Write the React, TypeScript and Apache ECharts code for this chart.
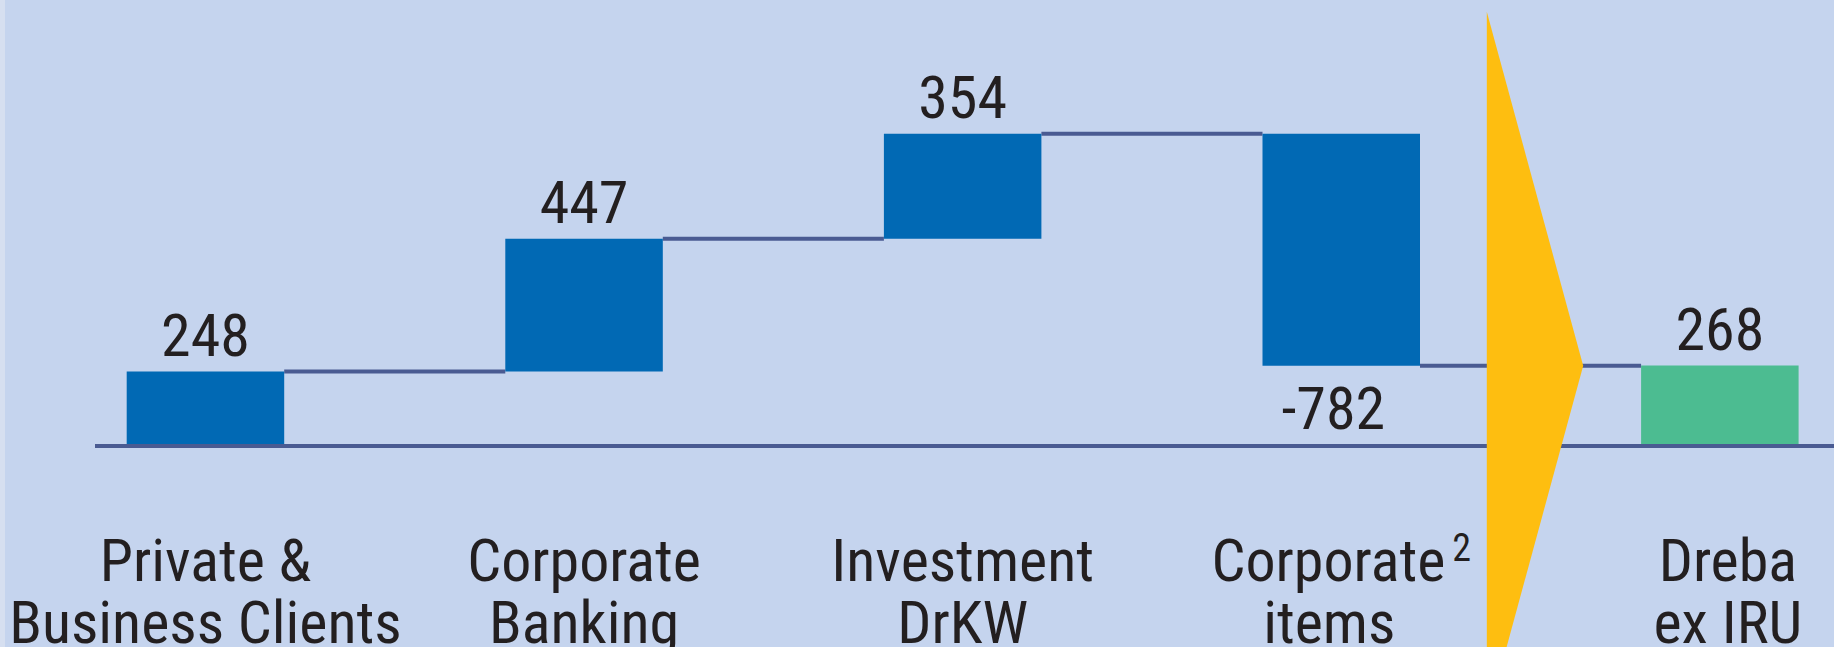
import React, { useEffect, useRef } from 'react';
import * as echarts from 'echarts';

// ---- data ----
const categories = ['Private &\nBusiness Clients', 'Corporate\nBanking', 'Investment\nDrKW', 'Corporate²\nitems', 'Dreba\nex IRU'];
const steps = [248, 447, 354, -782];
const totalValue = 268;
const valueLabels = ['248', '447', '354', '-782', '268'];
const yRange = [0, 1500];

// ---- style ----
const BG = '#c5d4ee';
const BLUE = '#0169b4';
const GREEN = '#4cbc91';
const YELLOW = '#febe10';
const LINE = '#4a5b92';
const TEXT = '#231f20';
const FONT = "'Roboto Condensed', 'DejaVu Sans Condensed', sans-serif";
const BAR_W = 157.5;

export default function App() {
  const ref = useRef<HTMLDivElement>(null);

  useEffect(() => {
    const chart = echarts.init(ref.current!, null, { renderer: 'svg' });

    const helper: number[] = [];
    const visible: any[] = [];
    const connectors: [number, number][] = [];
    let cum = 0;
    steps.forEach((s, i) => {
      const next = cum + s;
      helper.push(Math.min(cum, next));
      visible.push({
        value: Math.abs(s),
        itemStyle: { color: BLUE },
        label: {
          formatter: valueLabels[i],
          position: s < 0 ? 'bottom' : 'top',
          distance: s < 0 ? 13 : 6,
          offset: s < 0 ? [-8, 0] : [0, 0],
        },
      });
      connectors.push([i, next]);
      cum = next;
    });
    helper.push(0);
    visible.push({
      value: totalValue,
      itemStyle: { color: GREEN },
      label: { formatter: valueLabels[4], position: 'top', distance: 6 },
    });

    const axisData = categories.map((c, i) =>
      i === categories.length - 1 ? { value: c, textStyle: { padding: [0, 0, 0, 16] } } : c
    );

    chart.setOption({
      animation: false,
      backgroundColor: BG,
      grid: { left: 11.15, top: 0, width: 1893, height: 445, outerBoundsMode: 'none', containLabel: false },
      xAxis: {
        type: 'category',
        data: axisData,
        axisLine: { show: false },
        axisTick: { show: false },
        axisLabel: {
          interval: 0,
          margin: 84,
          fontSize: 60,
          lineHeight: 62,
          fontFamily: FONT,
          color: TEXT,
          hideOverlap: false,
          formatter: (v: string) => {
            if (v.indexOf('²') < 0) return v;
            const lines = v.split('\n');
            return lines[0].replace('²', '{sup|2}') + '\n' + lines[1] + '{pad| }';
          },
          rich: {
            sup: {
              fontSize: 38,
              fontFamily: FONT,
              color: TEXT,
              verticalAlign: 'top',
              lineHeight: 34,
              padding: [0, 0, 0, 7],
            },
            pad: { width: 24, fontSize: 60, lineHeight: 62, fontFamily: FONT },
          },
        },
      },
      yAxis: { type: 'value', min: yRange[0], max: yRange[1], show: false },
      series: [
        {
          type: 'bar',
          stack: 'w',
          barWidth: BAR_W,
          data: helper,
          itemStyle: { color: 'transparent' },
          silent: true,
          z: 2,
        },
        {
          type: 'bar',
          stack: 'w',
          barWidth: BAR_W,
          data: visible,
          z: 3,
          label: {
            show: true,
            fontSize: 60,
            lineHeight: 60,
            fontFamily: FONT,
            color: TEXT,
          },
        },
        {
          type: 'custom',
          z: 1,
          data: connectors,
          encode: { x: 0, y: 1 },
          renderItem: (params: any, api: any) => {
            const i = api.value(0);
            const lvl = api.value(1);
            const p1 = api.coord([i, lvl]);
            const p2 = api.coord([i + 1, lvl]);
            return {
              type: 'line',
              shape: { x1: p1[0] + BAR_W / 2, y1: p1[1], x2: p2[0] - BAR_W / 2, y2: p2[1] },
              style: { stroke: LINE, lineWidth: 4 },
            };
          },
        },
      ],
    });

    const zero = chart.convertToPixel({ xAxisIndex: 0, yAxisIndex: 0 }, [0, 0]) as number[];
    const lastLevel = connectors[connectors.length - 1];
    const pA = chart.convertToPixel({ xAxisIndex: 0, yAxisIndex: 0 }, [3, lastLevel[1]]) as number[];
    const pB = chart.convertToPixel({ xAxisIndex: 0, yAxisIndex: 0 }, [4, lastLevel[1]]) as number[];
    const mid = (pA[0] + pB[0]) / 2;
    const tipY = pA[1];

    chart.setOption({
      graphic: [
        {
          type: 'line',
          z: 50,
          shape: { x1: 90, y1: zero[1] + 1, x2: 1829, y2: zero[1] + 1 },
          style: { stroke: LINE, lineWidth: 4 },
        },
        {
          type: 'polygon',
          z: 60,
          shape: {
            points: [
              [mid - 43.75, tipY - 354],
              [mid + 52.65, tipY],
              [mid - 43.75, tipY + 354],
            ],
          },
          style: { fill: YELLOW },
        },
      ],
    });

    return () => chart.dispose();
  }, []);

  return (
    <div style={{ position: 'fixed', left: 0, top: 0, width: 1834, height: 647, background: '#d6dff0' }}>
      <div ref={ref} style={{ position: 'absolute', left: 5, top: 0, width: 1829, height: 647 }} />
    </div>
  );
}
